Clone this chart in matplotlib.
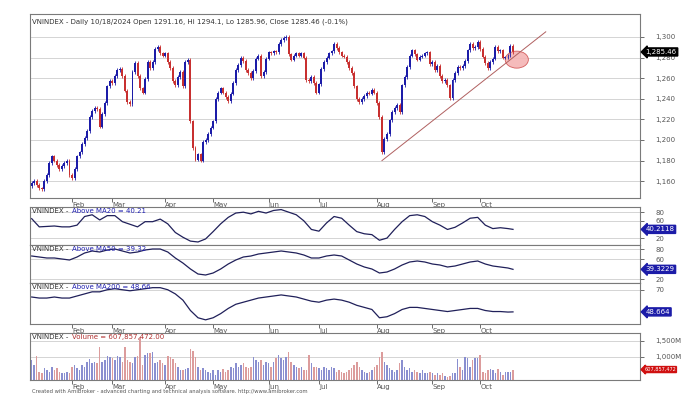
import numpy as np
import pandas as pd
import matplotlib
matplotlib.use("Agg")
import matplotlib.pyplot as plt
from matplotlib.patches import Ellipse

# trading days 2024 (HOSE holidays removed)
holidays = ["2024-02-08", "2024-02-09", "2024-02-12", "2024-02-13", "2024-02-14",
            "2024-04-18", "2024-04-29", "2024-04-30", "2024-05-01",
            "2024-09-02", "2024-09-03"]
days = pd.bdate_range("2024-01-10", "2024-10-18")
days = days[~days.isin(pd.to_datetime(holidays))]

close = [1158, 1160, 1156, 1153, 1152, 1160, 1166, 1178, 1184, 1180,
         1176, 1172, 1175, 1178, 1180, 1166, 1163, 1172, 1184, 1188,
         1196, 1202, 1209, 1222, 1228, 1231, 1230, 1213, 1225, 1236,
         1252, 1257, 1255, 1262, 1268, 1269, 1262, 1248, 1237, 1235,
         1266, 1275, 1262, 1250, 1246, 1259, 1276, 1270, 1276, 1288,
         1290, 1284, 1282, 1284, 1276, 1270, 1257, 1253, 1261, 1266,
         1252, 1276, 1278, 1218, 1192, 1181, 1186, 1180, 1198, 1200,
         1206, 1212, 1218, 1240, 1246, 1250, 1246, 1242, 1238, 1245,
         1255, 1268, 1273, 1280, 1277, 1268, 1265, 1260, 1267, 1279,
         1282, 1262, 1266, 1279, 1285, 1284, 1286, 1285, 1293, 1297,
         1299, 1300, 1283, 1278, 1282, 1284, 1282, 1284, 1280, 1258,
         1257, 1261, 1255, 1246, 1254, 1269, 1276, 1280, 1284, 1286,
         1293, 1289, 1285, 1282, 1281, 1276, 1270, 1265, 1252, 1240,
         1237, 1240, 1243, 1246, 1245, 1249, 1246, 1236, 1222, 1188,
         1201, 1206, 1219, 1227, 1231, 1234, 1227, 1253, 1261, 1271,
         1282, 1287, 1283, 1278, 1281, 1282, 1284, 1285, 1274, 1276,
         1268, 1272, 1262, 1257, 1258, 1253, 1241, 1258, 1265, 1271,
         1270, 1272, 1277, 1287, 1293, 1289, 1290, 1295, 1288, 1281,
         1275, 1270, 1276, 1279, 1290, 1286, 1287, 1280, 1280, 1282,
         1291.16, 1285.46]
first_open = 1155

volume = [906, 750, 1030, 540, 490, 645, 595, 540, 700, 595,
          645, 540, 490, 490, 540, 490, 700, 750, 645, 595,
          750, 700, 855, 925, 820, 855, 800, 1320, 855, 905,
          1030, 1010, 960, 905, 1030, 1010, 855, 1320, 905, 855,
          800, 1010, 1030, 1635, 750, 1060, 1115, 1135, 1145, 820,
          855, 905, 800, 750, 1030, 990, 925, 820, 700, 595,
          595, 620, 645, 1240, 1190, 1010, 700, 595, 645, 595,
          540, 490, 595, 440, 595, 540, 610, 540, 595, 700,
          645, 800, 700, 750, 820, 700, 650, 700, 1010, 905,
          855, 905, 750, 855, 800, 700, 855, 955, 1060, 960,
          905, 1010, 1165, 850, 750, 700, 650, 700, 600, 590,
          1060, 800, 700, 700, 650, 600, 700, 650, 600, 700,
          650, 540, 590, 540, 490, 540, 600, 645, 750, 855,
          700, 595, 540, 490, 540, 600, 700, 750, 1010, 1165,
          855, 750, 645, 600, 540, 595, 800, 905, 697, 593,
          645, 541, 593, 541, 489, 593, 510, 489, 541, 510,
          437, 489, 437, 489, 400, 385, 420, 489, 489, 940,
          697, 593, 1010, 980, 697, 906, 980, 958, 1073, 541,
          489, 593, 615, 593, 489, 615, 541, 437, 541, 541,
          541, 607.857472]

# breadth lines, read every 3rd bar plus the last one
breadth_idx = list(range(0, 190, 3)) + [191]
above_ma20 = [65, 46, 47, 48, 46, 46, 50, 70, 74, 62,
              72, 72, 58, 52, 46, 58, 58, 64, 53, 33,
              22, 13, 11, 18, 35, 53, 68, 78, 80, 76,
              82, 78, 84, 86, 80, 74, 60, 40, 36, 55,
              70, 66, 50, 35, 30, 28, 15, 20, 40, 58,
              72, 74, 70, 58, 50, 40, 45, 55, 66, 68,
              50, 42, 44, 42, 40.21]
above_ma50 = [66, 64, 62, 62, 60, 58, 64, 72, 76, 74,
              78, 80, 76, 72, 74, 78, 80, 80, 74, 62,
              52, 40, 30, 28, 32, 40, 50, 58, 64, 66,
              70, 72, 74, 76, 74, 72, 68, 62, 62, 66,
              68, 66, 58, 50, 44, 40, 32, 34, 40, 48,
              54, 56, 54, 50, 48, 44, 46, 50, 54, 56,
              50, 46, 44, 42, 39.32]
above_ma200 = [63, 62, 62, 63, 62, 62, 64, 66, 68, 68,
               70, 71, 70, 69, 70, 71, 72, 72, 70, 66,
               60, 50, 43, 41, 43, 47, 52, 56, 58, 60,
               62, 63, 64, 65, 64, 63, 61, 59, 58, 60,
               61, 60, 58, 55, 53, 51, 43, 44, 47, 51,
               53, 53, 52, 51, 50, 49, 50, 51, 52, 52,
               50, 49, 49, 48.5, 48.664]

month_names = ["Feb", "Mar", "Apr", "May", "Jun", "Jul", "Aug", "Sep", "Oct"]
trend_pts = ([139, 204], [1180, 1305])

n = len(close)
x = np.arange(n)
close = np.array(close, dtype=float)
opn = np.concatenate([[first_open], close[:-1]])
up = close >= opn
UPC, DNC = "#1c1ca8", "#c83030"

W, H = 682, 404
fig = plt.figure(figsize=(W / 100, H / 100), dpi=100)
fig.patch.set_facecolor("white")


def pane(top, bottom):
    return fig.add_axes([30 / W, 1 - bottom / H, 610 / W, (bottom - top) / H])


xl = (-0.67, 241.4)
grid_c = "#d4d4d4"
lab_c = "#555555"
frame_c = "#7a7a7a"


def style(ax, ticks, labels):
    ax.set_xlim(*xl)
    ax.yaxis.tick_right()
    ax.set_yticks(ticks)
    ax.set_yticklabels(labels)
    ax.tick_params(axis="y", length=3, pad=8, labelsize=5, colors=lab_c, width=0.6)
    for t in ticks:
        ax.axhline(t, color=grid_c, lw=0.7, zorder=0)
    for s in ax.spines.values():
        s.set_color(frame_c)
        s.set_linewidth(0.8)


month_idx = [int(np.argmax((days.month == m))) for m in range(2, 11)]


def month_axis(ax):
    ax.set_xticks(month_idx)
    ax.set_xticklabels(month_names)
    ax.tick_params(axis="x", length=3, pad=0, labelsize=5, colors=lab_c, width=0.6)
    for t in ax.get_xticklabels():
        t.set_ha("left")


def pane_title(a, name, color):
    t = a.text(0.003, 0.97, "VNINDEX - ", transform=a.transAxes, fontsize=5,
               color="#333333", va="top")
    a.annotate(name, xy=(1, 0), xycoords=t, xytext=(1, 0), textcoords="offset points",
               fontsize=5, color=color, va="bottom")


# price pane
ax = pane(14, 198)
style(ax, [1160, 1180, 1200, 1220, 1240, 1260, 1280, 1300],
      ["1,160", "1,180", "1,200", "1,220", "1,240", "1,260", "1,280", "1,300"])
ax.set_ylim(1143.7, 1322.3)
col = np.where(up, UPC, DNC)
lo = np.minimum(opn, close)
hi = np.maximum(opn, close)
ax.vlines(x, lo - 1.8, hi + 1.8, colors=col, lw=0.6)
ax.bar(x, np.maximum(hi - lo, 0.8), bottom=lo, width=0.78, color=col, lw=0)
ax.plot(trend_pts[0], trend_pts[1], color="#b06060", lw=0.7)
ax.add_patch(Ellipse((192.5, 1278), 9.2, 16.5, fc="#f4b4b4", ec="#d05050", lw=0.6, alpha=0.9))
ax.text(0.003, 0.975, "VNINDEX - Daily 10/18/2024 Open 1291.16, Hi 1294.1, Lo 1285.96, Close 1285.46 (-0.1%)",
        transform=ax.transAxes, fontsize=5, color="#333333", va="top")
ax.annotate("1,285.46", xy=(1.0, close[-1]), xycoords=("axes fraction", "data"),
            xytext=(4, 0), textcoords="offset points", fontsize=5, color="white",
            va="center", ha="left",
            bbox=dict(boxstyle="larrow,pad=0.15", fc="black", ec="black"))
month_axis(ax)


def breadth(top, bottom, vals, ylim, ticks, name, tag):
    a = pane(top, bottom)
    style(a, ticks, [str(t) for t in ticks])
    a.set_ylim(*ylim)
    a.plot(breadth_idx, vals, color="#20205a", lw=0.9)
    a.set_xticks([])
    pane_title(a, name, "#2020b0")
    a.annotate(tag, xy=(1.0, vals[-1]), xycoords=("axes fraction", "data"),
               xytext=(4, 0), textcoords="offset points", fontsize=5, color="white",
               va="center", ha="left",
               bbox=dict(boxstyle="larrow,pad=0.15", fc="#1c1ca8", ec="#1c1ca8"))
    return a


breadth(207, 245, above_ma20, (4, 92), [20, 60, 80], "Above MA20 = 40.21", "40.2118")
breadth(245, 283, above_ma50, (12, 88), [20, 60, 80], "Above MA50 = 39.32", "39.3229")
a200 = breadth(283, 324, above_ma200, (37, 76.5), [70], "Above MA200 = 48.66", "48.664")
month_axis(a200)

# volume pane
av = pane(333, 380)
style(av, [1000, 1500], ["1,000M", "1,500M"])
av.set_ylim(281, 1750)
vcol = np.where(up, "#8a8fd0", "#dc9c9c")
av.bar(x, np.array(volume) - 281, bottom=281, width=0.6, color=vcol, lw=0)
pane_title(av, "Volume = 607,857,472.00", "#b03030")
av.annotate("607,857,472", xy=(1.0, volume[-1]), xycoords=("axes fraction", "data"),
            xytext=(3, 0), textcoords="offset points", fontsize=3.6, color="white",
            va="center", ha="left",
            bbox=dict(boxstyle="larrow,pad=0.1", fc="#d01010", ec="#d01010"))
month_axis(av)

fig.text(32 / W, 1 - 392 / H,
         "Created with AmiBroker - advanced charting and technical analysis software. http://www.amibroker.com",
         fontsize=3.8, color="#555555", va="center")

fig.savefig("out.png", dpi=100)
